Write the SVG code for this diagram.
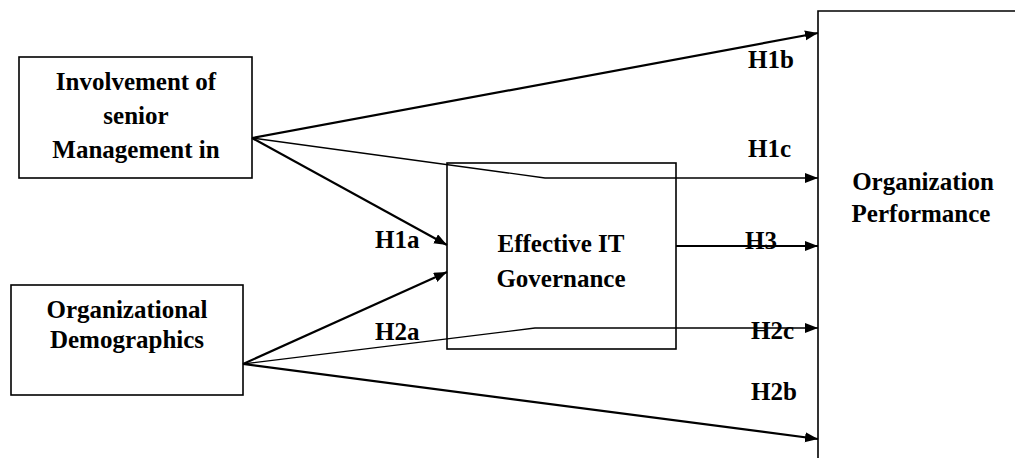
<svg xmlns="http://www.w3.org/2000/svg" width="1015" height="458" viewBox="0 0 1015 458">
<style>
.box{fill:#fff;stroke:#000;stroke-width:1.6}
.t{font-family:"Liberation Serif","Times New Roman",serif;font-weight:bold;font-size:25px;fill:#000}
.c{text-anchor:middle}
.thick{fill:none;stroke:#000;stroke-width:2.2}
.thin{fill:none;stroke:#000;stroke-width:1.3}
</style>
<defs>
<marker id="ah" markerUnits="userSpaceOnUse" markerWidth="14" markerHeight="12" refX="13" refY="5" orient="auto">
<path d="M0,0 L13,5 L0,10 z" fill="#000"/>
</marker>
</defs>
<g id="node-involvement">
<rect class="box" x="19" y="57" width="233" height="121"/>
<text class="t c" x="136" y="90">Involvement of</text>
<text class="t c" x="136" y="124">senior</text>
<text class="t c" x="136" y="158">Management in</text>
</g>
<g id="node-demographics">
<rect class="box" x="11" y="285" width="232" height="110"/>
<text class="t c" x="127" y="318">Organizational</text>
<text class="t c" x="127" y="348">Demographics</text>
</g>
<g id="node-governance">
<rect class="box" x="447" y="163" width="229" height="186"/>
<text class="t c" x="561" y="252">Effective IT</text>
<text class="t c" x="561" y="287">Governance</text>
</g>
<g id="node-performance">
<path class="box" d="M1020,11 H818 V462" fill="none"/>
<text class="t c" x="923" y="190">Organization</text>
<text class="t c" x="921" y="222">Performance</text>
</g>
<g id="connectors">
<path class="thick" d="M252,138 L818,33" marker-end="url(#ah)"/>
<path class="thin" d="M252,138 L545,178 L818,178" marker-end="url(#ah)"/>
<path class="thick" d="M252,138 L447,245" marker-end="url(#ah)"/>
<path class="thick" d="M243,364 L447,272" marker-end="url(#ah)"/>
<path class="thin" d="M243,364 L535,328 L818,328" marker-end="url(#ah)"/>
<path class="thick" d="M243,364 L818,439" marker-end="url(#ah)"/>
<path class="thick" d="M676,246 L818,246" marker-end="url(#ah)"/>
</g>
<g id="labels">
<text class="t" x="748" y="68">H1b</text>
<text class="t" x="748" y="157">H1c</text>
<text class="t" x="375" y="248">H1a</text>
<text class="t" x="745" y="249">H3</text>
<text class="t" x="751" y="339">H2c</text>
<text class="t" x="751" y="400">H2b</text>
<text class="t" x="375" y="340">H2a</text>
</g>
</svg>
